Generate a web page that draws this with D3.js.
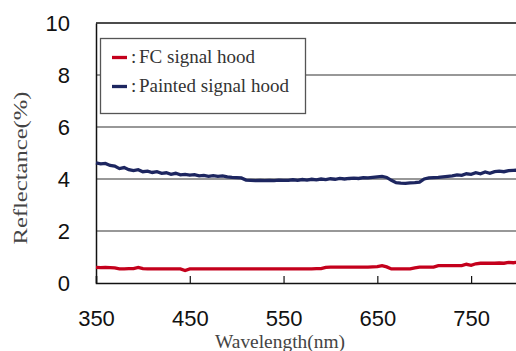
<!DOCTYPE html>
<html>
<head>
<meta charset="utf-8">
<script src="https://cdn.jsdelivr.net/npm/d3@7"></script>
<style>
  body { margin: 0; background: #fff; }
  svg { display: block; }
</style>
</head>
<body>
<div id="chart"></div>
<script>
// wavelength samples (nm), 5 nm steps
const wavelengths = d3.range(350, 801, 5);

// Painted signal hood reflectance (%)
const paintedValues = [
  4.62, 4.58, 4.60, 4.52, 4.50, 4.40, 4.44, 4.36, 4.32, 4.36,
  4.28, 4.30, 4.25, 4.28, 4.22, 4.24, 4.18, 4.22, 4.16, 4.18,
  4.15, 4.17, 4.12, 4.14, 4.10, 4.13, 4.10, 4.12, 4.08, 4.06,
  4.05, 4.04, 3.96, 3.95, 3.94, 3.95, 3.94, 3.95, 3.94, 3.96,
  3.95, 3.95, 3.97, 3.95, 3.98, 3.96, 3.99, 3.97, 4.00, 3.98,
  4.01, 3.99, 4.02, 4.00, 4.02, 4.03, 4.02, 4.05, 4.04, 4.06,
  4.08, 4.10, 4.06, 3.95, 3.86, 3.84, 3.83, 3.85, 3.86, 3.88,
  4.00, 4.04, 4.05, 4.06, 4.08, 4.10, 4.12, 4.16, 4.14, 4.20,
  4.18, 4.24, 4.20, 4.27, 4.22, 4.28, 4.30, 4.28, 4.32, 4.33,
  4.34
];

// FC signal hood reflectance (%)
const fcValues = [
  0.60, 0.59, 0.60, 0.59, 0.58, 0.54, 0.54, 0.55, 0.55, 0.60,
  0.55, 0.54, 0.54, 0.54, 0.54, 0.54, 0.54, 0.54, 0.54, 0.48,
  0.54, 0.54, 0.54, 0.54, 0.54, 0.54, 0.54, 0.54, 0.54, 0.54,
  0.54, 0.54, 0.54, 0.54, 0.54, 0.54, 0.54, 0.54, 0.54, 0.54,
  0.54, 0.54, 0.54, 0.54, 0.54, 0.54, 0.54, 0.55, 0.55, 0.60,
  0.61, 0.61, 0.61, 0.61, 0.61, 0.61, 0.61, 0.61, 0.61, 0.62,
  0.63, 0.67, 0.62, 0.54, 0.54, 0.54, 0.54, 0.54, 0.58, 0.61,
  0.61, 0.61, 0.61, 0.67, 0.67, 0.67, 0.67, 0.67, 0.67, 0.72,
  0.68, 0.74, 0.76, 0.76, 0.76, 0.76, 0.77, 0.76, 0.79, 0.78,
  0.80
];

const xTicks = [350, 450, 550, 650, 750];
const yTicks = [0, 2, 4, 6, 8, 10];

const seriesNames = ["FC signal hood", "Painted signal hood"];
const seriesColors = ["#c4001c", "#1d2660"];

const width = 516, height = 351;
const margin = {top: 23, right: -2, bottom: 68, left: 96};

const svg = d3.select("#chart").append("svg")
  .attr("width", width)
  .attr("height", height);

const x = d3.scaleLinear()
  .domain([350, 800])
  .range([margin.left, width - margin.right]);
const y = d3.scaleLinear()
  .domain([0, 10])
  .range([height - margin.bottom, margin.top]);

// gridlines
svg.append("g")
  .selectAll("line")
  .data(yTicks.filter(d => d > 0 && d < 10))
  .join("line")
  .attr("x1", x(350)).attr("x2", width)
  .attr("y1", d => y(d)).attr("y2", d => y(d))
  .attr("stroke", "#333")
  .attr("stroke-width", 1.2);

// top frame line
svg.append("line")
  .attr("x1", x(350)).attr("x2", width)
  .attr("y1", y(10)).attr("y2", y(10))
  .attr("stroke", "#111").attr("stroke-width", 1.3);

// y axis
const yAxis = d3.axisLeft(y).tickValues(yTicks).tickSize(0).tickPadding(26);
svg.append("g")
  .attr("transform", `translate(${x(350)},0)`)
  .call(yAxis)
  .call(g => g.select(".domain").attr("stroke", "#111").attr("stroke-width", 1.5))
  .call(g => g.selectAll("text")
    .attr("font-family", "Liberation Sans, Arial, sans-serif")
    .attr("font-size", 22)
    .attr("fill", "#111"));

// x axis with inward ticks
const xAxis = d3.axisBottom(x).tickValues(xTicks).tickSize(-7).tickPadding(27);
svg.append("g")
  .attr("transform", `translate(0,${y(0)})`)
  .call(xAxis)
  .call(g => g.select(".domain").attr("stroke", "#111").attr("stroke-width", 1.5))
  .call(g => g.selectAll(".tick line").attr("stroke", "#111").attr("stroke-width", 1.2))
  .call(g => g.selectAll("text")
    .attr("font-family", "Liberation Sans, Arial, sans-serif")
    .attr("font-size", 22)
    .attr("fill", "#111"));

// data lines
const line = d3.line()
  .x((d, i) => x(wavelengths[i]))
  .y(d => y(d));

svg.append("path")
  .datum(fcValues)
  .attr("fill", "none")
  .attr("stroke", seriesColors[0])
  .attr("stroke-width", 3.3)
  .attr("d", line);

svg.append("path")
  .datum(paintedValues)
  .attr("fill", "none")
  .attr("stroke", seriesColors[1])
  .attr("stroke-width", 3.3)
  .attr("d", line);

// legend
const legend = svg.append("g");
legend.append("rect")
  .attr("x", 100.5).attr("y", 38.5)
  .attr("width", 205).attr("height", 75)
  .attr("fill", "#fff")
  .attr("stroke", "#555")
  .attr("stroke-width", 1.3);

seriesNames.forEach((name, i) => {
  const cy = 57.5 + i * 29;
  legend.append("line")
    .attr("x1", 112).attr("x2", 127)
    .attr("y1", cy).attr("y2", cy)
    .attr("stroke", seriesColors[i])
    .attr("stroke-width", 3.3);
  legend.append("text")
    .attr("x", 131)
    .attr("y", cy + 5.5)
    .attr("font-family", "Liberation Serif, Times New Roman, serif")
    .attr("font-size", 19)
    .attr("fill", "#333")
    .text(":");
  legend.append("text")
    .attr("x", 139)
    .attr("y", cy + 5.5)
    .attr("font-family", "Liberation Serif, Times New Roman, serif")
    .attr("font-size", 19)
    .attr("fill", "#333")
    .text(name);
});

// axis titles
svg.append("text")
  .attr("x", 280)
  .attr("y", 348)
  .attr("text-anchor", "middle")
  .attr("font-family", "Liberation Serif, Times New Roman, serif")
  .attr("font-size", 19)
  .attr("fill", "#444")
  .attr("textLength", 130)
  .attr("lengthAdjust", "spacingAndGlyphs")
  .text("Wavelength(nm)");

svg.append("text")
  .attr("transform", "translate(27,168) rotate(-90)")
  .attr("text-anchor", "middle")
  .attr("font-family", "Liberation Serif, Times New Roman, serif")
  .attr("font-size", 19)
  .attr("fill", "#444")
  .attr("textLength", 153)
  .attr("lengthAdjust", "spacingAndGlyphs")
  .text("Reflectance(%)");
</script>
</body>
</html>
